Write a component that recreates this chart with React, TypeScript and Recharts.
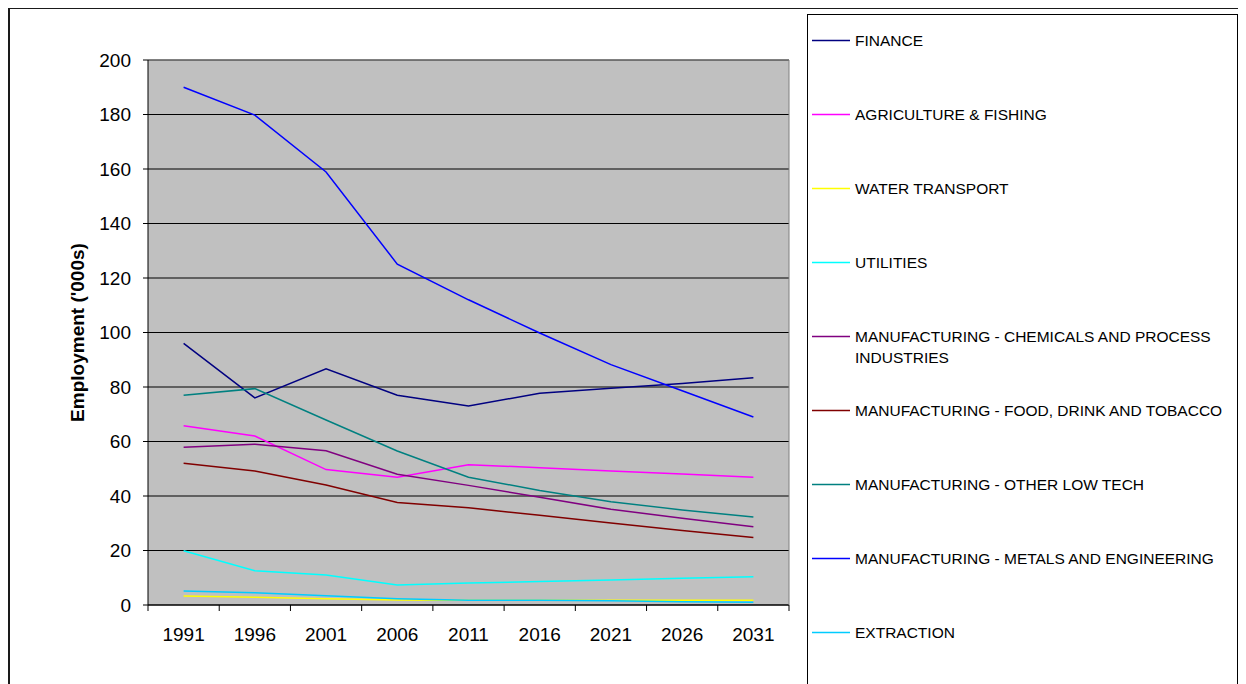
import React from 'react';
import {
  LineChart,
  Line,
  XAxis,
  YAxis,
  CartesianGrid,
  Legend,
  Label,
  ReferenceLine,
} from 'recharts';

// Census / projection years
const years = [1991, 1996, 2001, 2006, 2011, 2016, 2021, 2026, 2031];

// Employment by sector, thousands
const finance = [96.0, 76.0, 86.7, 77.0, 73.0, 77.7, 79.5, 81.3, 83.4];
const agricultureFishing = [65.8, 62.0, 49.7, 46.9, 51.5, 50.4, 49.2, 48.1, 46.9];
const waterTransport = [3.3, 2.8, 2.3, 1.8, 1.7, 1.7, 1.7, 1.7, 1.7];
const utilities = [19.9, 12.6, 11.0, 7.3, 8.1, 8.6, 9.2, 9.8, 10.4];
const chemicals = [57.9, 59.0, 56.6, 48.0, 43.9, 39.5, 35.1, 31.8, 28.7];
const foodDrinkTobacco = [52.0, 49.2, 44.0, 37.6, 35.7, 32.9, 30.1, 27.3, 24.8];
const otherLowTech = [77.0, 79.4, 67.9, 56.5, 46.9, 42.0, 37.9, 34.9, 32.3];
const metalsEngineering = [190.0, 179.8, 158.9, 125.1, 112.0, 99.8, 88.2, 78.6, 69.0];
const extraction = [5.1, 4.5, 3.4, 2.3, 1.7, 1.7, 1.6, 1.2, 1.0];

const yTicks = [0, 20, 40, 60, 80, 100, 120, 140, 160, 180, 200];
const yMax = yTicks[yTicks.length - 1];

const series = [
  { key: 'finance', name: 'FINANCE', color: '#000080', values: finance },
  { key: 'agri', name: 'AGRICULTURE & FISHING', color: '#FF00FF', values: agricultureFishing },
  { key: 'water', name: 'WATER TRANSPORT', color: '#FFFF00', values: waterTransport },
  { key: 'util', name: 'UTILITIES', color: '#00FFFF', values: utilities },
  { key: 'chem', name: 'MANUFACTURING - CHEMICALS AND PROCESS INDUSTRIES', color: '#800080', values: chemicals },
  { key: 'food', name: 'MANUFACTURING - FOOD, DRINK AND TOBACCO', color: '#800000', values: foodDrinkTobacco },
  { key: 'lowtech', name: 'MANUFACTURING - OTHER LOW TECH', color: '#008080', values: otherLowTech },
  { key: 'metals', name: 'MANUFACTURING - METALS AND ENGINEERING', color: '#0000FF', values: metalsEngineering },
  { key: 'extract', name: 'EXTRACTION', color: '#00CCFF', values: extraction },
];

const data = years.map((year, i) => {
  const row: Record<string, number> = { year };
  series.forEach((s) => {
    row[s.key] = s.values[i];
  });
  return row;
});

// Half a category step either side of each year
const step = years[1] - years[0];
const xDomain = [years[0] - step / 2, years[years.length - 1] + step / 2];

const FONT = '"Liberation Sans", Arial, sans-serif';

// Year label with tick marks on the category boundaries
function YearTick(props: any) {
  const { x, y, payload, index, visibleTicksCount, width } = props;
  const half = width / (2 * years.length);
  const axisY = y - 23;
  return (
    <g>
      <line x1={x - half} x2={x - half} y1={axisY} y2={axisY + 6} stroke="#000" />
      {index === visibleTicksCount - 1 && (
        <line x1={x + half} x2={x + half} y1={axisY} y2={axisY + 6} stroke="#000" />
      )}
      <text
        x={x}
        y={y}
        dy="0.71em"
        textAnchor="middle"
        style={{ fontFamily: FONT, fontSize: 19, fill: '#000' }}
      >
        {payload.value}
      </text>
    </g>
  );
}

function LegendBox(props: any) {
  const payload = props.payload || [];
  return (
    <div
      style={{
        boxSizing: 'border-box',
        width: '100%',
        height: '100%',
        border: '1px solid #000',
        background: '#fff',
        paddingTop: 14.5,
        fontFamily: FONT,
        fontSize: 15.5,
        lineHeight: '21px',
        color: '#000',
        overflow: 'hidden',
      }}
    >
      {payload.map((entry: any) => (
        <div key={entry.value} style={{ display: 'flex', alignItems: 'flex-start', height: 74 }}>
          <svg width={38} height={21} style={{ marginLeft: 4, flex: 'none' }}>
            <line x1={0} x2={38} y1={10.5} y2={10.5} stroke={entry.color} strokeWidth={1.5} />
          </svg>
          <div style={{ marginLeft: 5, width: 382 }}>{entry.value}</div>
        </div>
      ))}
    </div>
  );
}

const legendOrder = (item: any) => series.findIndex((s) => s.name === item.value);

export default function App() {
  return (
    <div
      style={{
        position: 'relative',
        width: 1238,
        height: 690,
        border: '2px solid #1a1a1a',
        boxSizing: 'border-box',
        marginTop: -1,
        overflow: 'hidden',
        background: '#fff',
      }}
    >
      <LineChart
        width={1234}
        height={686}
        data={data}
        margin={{ top: 51, right: 454, bottom: 40, left: 0 }}
      >
        <CartesianGrid vertical={false} stroke="#000" fill="#C0C0C0" />
        <XAxis
          dataKey="year"
          type="number"
          domain={xDomain}
          ticks={years}
          interval={0}
          tickLine={false}
          axisLine={{ stroke: '#000' }}
          tickSize={0}
          tickMargin={23}
          height={50}
          tick={<YearTick />}
        />
        <YAxis
          domain={[0, yMax]}
          ticks={yTicks}
          interval={0}
          width={138}
          tickSize={5}
          tickMargin={12}
          axisLine={{ stroke: '#000' }}
          tickLine={{ stroke: '#000' }}
          tick={{ fill: '#000', fontSize: 19, fontFamily: FONT }}
        >
          <Label
            content={(p: any) => {
              const vb = p.viewBox || {};
              const cx = (vb.x || 0) + 67;
              const cy = (vb.y || 0) + (vb.height || 0) / 2;
              return (
                <text
                  x={cx}
                  y={cy}
                  transform={`rotate(-90 ${cx} ${cy})`}
                  textAnchor="middle"
                  dominantBaseline="central"
                  style={{ fontFamily: FONT, fontSize: 19, fontWeight: 'bold', fill: '#000' }}
                >
                  Employment ('000s)
                </text>
              );
            }}
          />
        </YAxis>
        <YAxis
          yAxisId="right"
          orientation="right"
          domain={[0, yMax]}
          width={1}
          tick={false}
          tickLine={false}
          axisLine={{ stroke: '#808080' }}
        />
        {/* plot-area frame along the top edge */}
        <ReferenceLine y={yMax} stroke="#808080" strokeWidth={1} />
        <Legend
          layout="horizontal"
          verticalAlign="middle"
          align="center"
          itemSorter={legendOrder}
          content={LegendBox}
          wrapperStyle={{ position: 'absolute', left: 797, top: 5, width: 431, height: 690 }}
        />
        {series.map((s) => (
          <Line
            key={s.key}
            type="linear"
            dataKey={s.key}
            name={s.name}
            stroke={s.color}
            strokeWidth={1.5}
            dot={false}
            activeDot={false}
            isAnimationActive={false}
          />
        ))}
      </LineChart>
    </div>
  );
}
